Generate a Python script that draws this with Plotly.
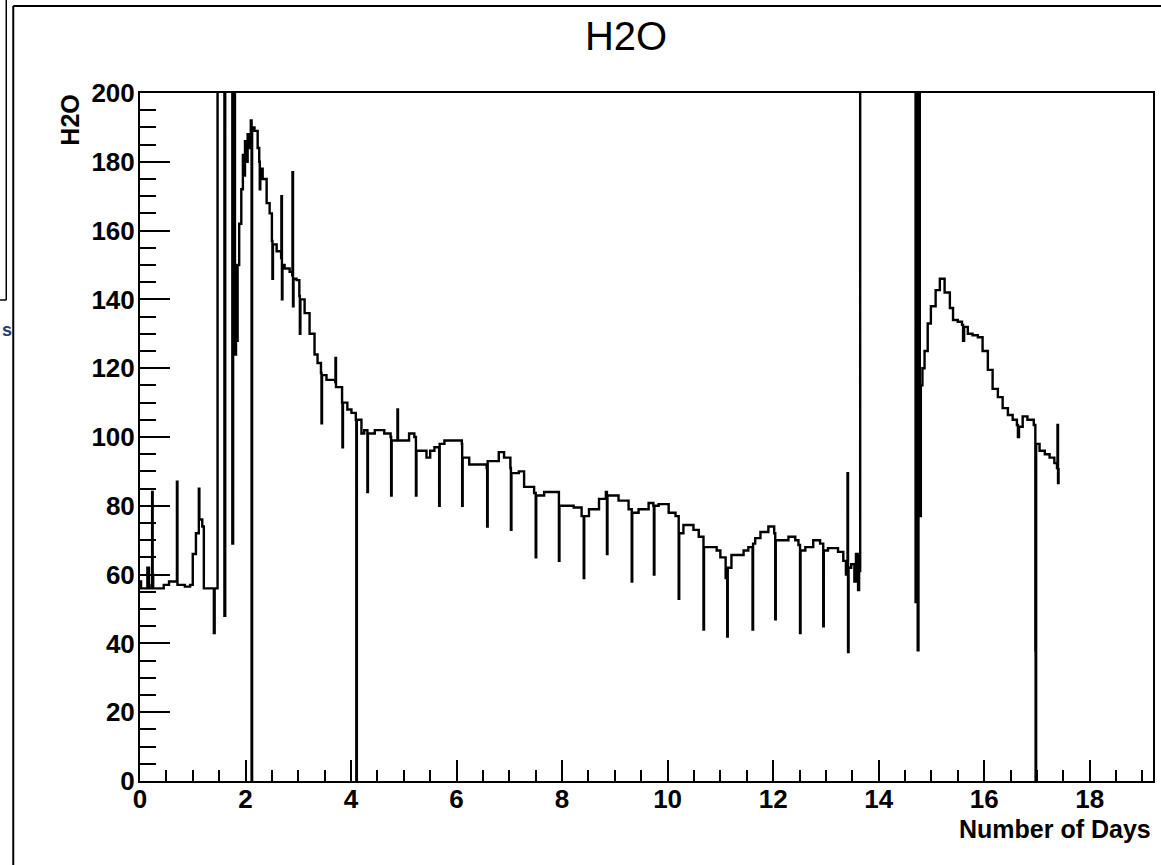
import plotly.graph_objects as go

# ---- data (day, H2O); 250 marks off-scale (>200) bins ----
days = [
    0.00, 0.02, 0.13, 0.14, 0.17, 0.22, 0.23, 0.24, 0.25, 0.40, 0.45, 0.55, 0.69, 0.70, 0.71,
    0.85, 0.95, 1.00, 1.06, 1.11, 1.115, 1.125, 1.18, 1.21, 1.35, 1.40, 1.415,
    1.47, 1.60, 1.615, 1.75, 1.765, 1.80, 1.82, 1.835, 1.85, 1.88, 1.92, 1.95, 1.97, 1.99,
    2.02, 2.04, 2.07, 2.10, 2.115, 2.125, 2.17, 2.23, 2.26, 2.27, 2.28, 2.325, 2.40, 2.457,
    2.50, 2.51, 2.52, 2.59, 2.675, 2.68, 2.69, 2.70, 2.741, 2.836, 2.885, 2.89, 2.90, 2.91,
    2.968, 3.02, 3.03, 3.04, 3.12, 3.214, 3.308, 3.365, 3.43, 3.44, 3.45, 3.535, 3.63, 3.70,
    3.705, 3.715, 3.743, 3.83, 3.837, 3.847, 3.93, 4.008, 4.09, 4.10, 4.11, 4.197, 4.25,
    4.30, 4.31, 4.32, 4.45, 4.63, 4.75, 4.76, 4.77, 4.87, 4.88, 4.89, 5.08, 5.10, 5.20,
    5.23, 5.24, 5.43, 5.50, 5.58, 5.66, 5.67, 5.68, 5.77, 6.05, 6.10, 6.106, 6.116, 6.24,
    6.52, 6.57, 6.58, 6.59, 6.80, 6.90, 7.02, 7.03, 7.04, 7.18, 7.28, 7.47, 7.50, 7.51,
    7.66, 7.93, 7.94, 7.95, 8.22, 8.37, 8.41, 8.42, 8.51, 8.70, 8.83, 8.85, 8.86, 9.07,
    9.26, 9.32, 9.33, 9.45, 9.64, 9.73, 9.74, 9.75, 9.83, 10.02, 10.15, 10.21, 10.22, 10.30,
    10.49, 10.59, 10.68, 10.69, 10.78, 10.93, 11.00, 11.10, 11.13, 11.14, 11.21, 11.44,
    11.53, 11.61, 11.62, 11.66, 11.76, 11.91, 12.02, 12.04, 12.05, 12.14, 12.29, 12.42,
    12.48, 12.51, 12.52, 12.61, 12.76, 12.89, 12.95, 12.96, 13.04, 13.23, 13.33, 13.38,
    13.41, 13.42, 13.43, 13.48, 13.54, 13.57, 13.61, 13.63, 13.65,
    14.70, 14.715, 14.74, 14.755, 14.78, 14.80, 14.83, 14.87, 14.93, 14.99, 15.08, 15.16,
    15.25, 15.35, 15.41, 15.50, 15.58, 15.60, 15.62, 15.69, 15.78, 15.88, 15.97, 16.07,
    16.16, 16.26, 16.35, 16.45, 16.54, 16.62, 16.64, 16.66, 16.73, 16.82, 16.94, 16.97,
    16.975, 16.985, 17.05, 17.15, 17.24, 17.33, 17.38, 17.39, 17.40, 17.41, 17.42,
]
h2o = [
    58, 56, 56, 62, 56, 57, 84, 60, 56, 56, 57, 58, 58, 87, 57,
    56.5, 57, 66, 72, 72, 85, 76, 74, 56, 56, 43, 56,
    250, 48, 250, 69, 250, 124, 150, 128, 150, 162, 172, 182, 176, 186,
    180, 188, 184, 192, 0, 190, 189, 184, 180, 172, 178, 175, 168, 165,
    157, 146, 156, 154, 152, 170, 140, 150, 149, 148, 147, 177, 138, 146,
    145.6, 141, 130, 140, 136, 130, 124, 121.5, 118.6, 104, 118, 116.6, 116.6, 116,
    123, 114.5, 114.5, 110, 97, 110, 108, 107, 105, 0, 105, 101, 102,
    102, 84, 101, 102, 101, 100, 83, 99, 99, 108, 99, 99, 101, 100,
    83, 96, 94, 96, 97, 97, 80, 98, 99, 99, 98, 80, 94, 92,
    92, 91, 74, 93, 95.6, 94, 91, 73, 89.5, 90, 85.5, 83.7, 65, 83,
    84, 84, 64, 80, 79.5, 77, 59, 77, 79, 82, 84, 66, 83, 81.5,
    79, 58, 78, 79, 80.8, 80, 60, 80, 80.5, 78, 77, 53, 72, 74.4,
    73, 71, 44, 68, 68, 67, 65, 59, 42, 62, 65.7, 67,
    68, 44, 69, 70.6, 72.4, 74, 72, 47, 70, 70, 71, 70,
    68.6, 43, 67, 68, 70, 69, 45, 67, 67.7, 66.6, 64, 60,
    89.5, 37.5, 62, 63, 58, 66, 55.5, 61, 250,
    52, 250, 38, 250, 77, 115, 120, 125, 133, 138, 142.7, 146,
    142, 137.5, 134, 133.5, 132.6, 128, 132, 130, 129.6, 129, 125, 119.5,
    114, 111.6, 108.4, 106.4, 105, 103.5, 100, 103, 106, 105, 103.5, 38,
    0, 98, 96, 95, 94, 92.4, 91, 103.5, 86.6, 91, 91,
]

x_range = [0, 19.2]
y_range = [0, 200]

W, H = 1161, 865
L, R, T, B = 140, 1155, 93, 781


def px(xp):
    return (xp - L) / (R - L)


def py(yp):
    return (B - yp) / (B - T)


TICK_FONT = dict(family="Liberation Sans", size=26, color="black", weight="bold")
TITLE_FONT = dict(family="Liberation Sans", size=25, color="black", weight="bold")

fig = go.Figure()
fig.add_trace(go.Scatter(
    x=days, y=h2o, mode="lines", line=dict(color="black", width=2.4, shape="hv"),
    showlegend=False, hoverinfo="skip",
))

axis_common = dict(
    showline=True, linecolor="black", linewidth=2, mirror=True,
    showgrid=False, zeroline=False, ticks="inside", tickcolor="black", tickwidth=2,
    tickfont=TICK_FONT, tickmode="linear", tick0=0,
)

fig.update_layout(
    width=W, height=H, autosize=False,
    margin=dict(l=L, r=W - R, t=T, b=H - B, pad=0),
    paper_bgcolor="white", plot_bgcolor="white",
    title=dict(text="H2O", x=626 / W, y=1 - 36 / H, xanchor="center", yanchor="middle",
               xref="container", yref="container",
               font=dict(family="Liberation Sans", size=40, color="black")),
    xaxis=dict(range=x_range, dtick=2, ticklen=21, ticklabelstandoff=-6,
               minor=dict(dtick=0.5, ticklen=11, ticks="inside", tickcolor="black",
                          tickwidth=2, showgrid=False),
               **axis_common),
    yaxis=dict(range=y_range, dtick=20, ticklen=30, ticklabelstandoff=-2,
               minor=dict(dtick=5, ticklen=16, ticks="inside", tickcolor="black",
                          tickwidth=2, showgrid=False),
               **axis_common),
    annotations=[
        dict(text="H2O", textangle=-90, xref="paper", yref="paper",
             x=px(69), y=py(93), xanchor="center", yanchor="top", showarrow=False,
             font=TITLE_FONT),
        dict(text="Number of Days", xref="paper", yref="paper",
             x=px(1155), y=py(829), xanchor="right", yanchor="middle", showarrow=False,
             font=TITLE_FONT),
        dict(text="s", xref="paper", yref="paper", x=px(0), y=py(330),
             xanchor="left", yanchor="middle", showarrow=False,
             font=dict(family="Liberation Sans", size=18, color="#1f3f7a", weight="bold")),
    ],
    shapes=[
        # canvas frame (left and top edges)
        dict(type="line", xref="paper", yref="paper", x0=px(13), x1=px(13), y0=py(6), y1=py(870),
             line=dict(color="black", width=2)),
        dict(type="line", xref="paper", yref="paper", x0=px(13), x1=px(1170), y0=py(6), y1=py(6),
             line=dict(color="black", width=2)),
        # neighbouring window edge at far left
        dict(type="line", xref="paper", yref="paper", x0=px(6), x1=px(6), y0=py(-5), y1=py(300),
             line=dict(color="black", width=1.5)),
        dict(type="line", xref="paper", yref="paper", x0=px(-5), x1=px(6), y0=py(300), y1=py(300),
             line=dict(color="black", width=1.5)),
    ],
)

fig.write_html("out.html", config={"displayModeBar": False},
               post_script="document.body.style.margin='0px';")
